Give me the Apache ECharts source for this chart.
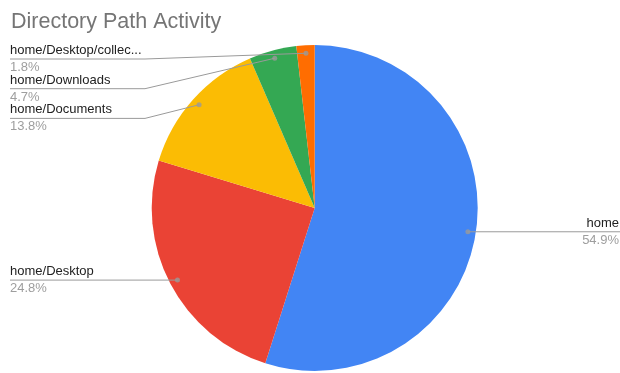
<!DOCTYPE html>
<html>
<head>
<meta charset="utf-8">
<script src="https://cdn.jsdelivr.net/npm/echarts@6/dist/echarts.min.js"></script>
<style>
  html, body { margin: 0; padding: 0; background: #fff; }
  #chart { width: 620px; height: 373px; }
</style>
</head>
<body>
<div id="chart"></div>
<script>
// Share of activity per directory path (percent)
const paths = ['home', 'home/Desktop', 'home/Documents', 'home/Downloads', 'home/Desktop/collec...'];
const shares = [54.9, 24.8, 13.8, 4.7, 1.8];
const sliceColors = ['#4285F4', '#EA4335', '#FBBC04', '#34A853', '#FF6D01'];

// Pie geometry
const CX = 314.7, CY = 208, R = 163;
const DOT_R = 0.951;          // fraction of radius where leader lines start
const W = 620;
const LEFT_EDGE = 10, RIGHT_EDGE = 619;
const LEFT_BEND = 145, RIGHT_BEND = 485;
const LABEL_TOP = 59, LABEL_GAP = 29.7;

// Mid-point of every slice, as a percentage around the circle
const total = shares.reduce((a, b) => a + b, 0);
const midPct = [];
let acc = 0;
shares.forEach(v => { midPct.push((acc + v / 2) / total * 100); acc += v; });

// Leader-line anchor points and stacked label rows
const anchors = midPct.map(p => {
  const a = p / 100 * Math.PI * 2;
  return [CX + Math.sin(a) * R * DOT_R, CY - Math.cos(a) * R * DOT_R];
});
const sides = anchors.map(pt => (pt[0] < CX ? 'left' : 'right'));
const rowY = anchors.map(pt => pt[1]);
['left', 'right'].forEach(side => {
  const idx = anchors.map((_, i) => i).filter(i => sides[i] === side)
    .sort((a, b) => anchors[a][1] - anchors[b][1]);
  let prev = -Infinity;
  idx.forEach(i => {
    const y = Math.max(anchors[i][1], LABEL_TOP, prev + LABEL_GAP);
    rowY[i] = y;
    prev = y;
  });
});

const pieBase = {
  type: 'pie',
  center: [CX, CY],
  radius: [0, R],
  startAngle: 90,
  clockwise: true
};

const chart = echarts.init(document.getElementById('chart'), null, { renderer: 'canvas' });

chart.setOption({
  animation: false,
  title: {
    text: 'Directory Path Activity',
    left: 6,
    top: 6,
    textStyle: { fontFamily: 'Arial', fontSize: 21.5, fontWeight: 'normal', color: '#757575' }
  },
  polar: { center: [CX, CY], radius: R },
  angleAxis: {
    type: 'value', min: 0, max: 100, startAngle: 90, clockwise: true,
    axisLine: { show: false }, axisTick: { show: false }, axisLabel: { show: false }, splitLine: { show: false }
  },
  radiusAxis: {
    type: 'value', min: 0, max: 1,
    axisLine: { show: false }, axisTick: { show: false }, axisLabel: { show: false }, splitLine: { show: false }
  },
  series: [Object.assign({}, pieBase, {
    // coloured slices
    z: 2,
    data: paths.map((p, i) => ({ name: p, value: shares[i], itemStyle: { color: sliceColors[i] } })),
    label: { show: false },
    labelLine: { show: false }
  }), Object.assign({}, pieBase, {
    // labels and leader lines, layered over the slices
    z: 4,
    silent: true,
    data: paths.map((p, i) => ({ name: p, value: shares[i] })),
    itemStyle: { color: 'rgba(0,0,0,0)' },
    label: {
      formatter: '{n|{b}}\n{p|{c}%}',
      rich: {
        n: { fontFamily: 'Arial', fontSize: 13, color: '#222222', lineHeight: 17 },
        p: { fontFamily: 'Arial', fontSize: 13, color: '#9e9e9e', lineHeight: 17 }
      }
    },
    labelLine: {
      length: 10,
      length2: 20,
      lineStyle: { color: '#9a9a9a', width: 1 }
    },
    labelLayout: function (params) {
      const i = params.dataIndex;
      const y = rowY[i];
      const a = anchors[i];
      if (sides[i] === 'left') {
        return {
          x: LEFT_EDGE, y: y, align: 'left', verticalAlign: 'middle',
          labelLinePoints: [[a[0], a[1]], [LEFT_BEND, y], [LEFT_EDGE, y]]
        };
      }
      return {
        x: RIGHT_EDGE, y: y, align: 'right', verticalAlign: 'middle',
        labelLinePoints: [[a[0], a[1]], [RIGHT_BEND, y], [W, y]]
      };
    }
  }), {
    // small dots where the leader lines meet the slices
    type: 'scatter',
    coordinateSystem: 'polar',
    symbol: 'circle',
    symbolSize: 5,
    silent: true,
    itemStyle: { color: '#9a9a9a' },
    data: midPct.map(p => [DOT_R, p]),
    z: 5
  }]
});
</script>
</body>
</html>
